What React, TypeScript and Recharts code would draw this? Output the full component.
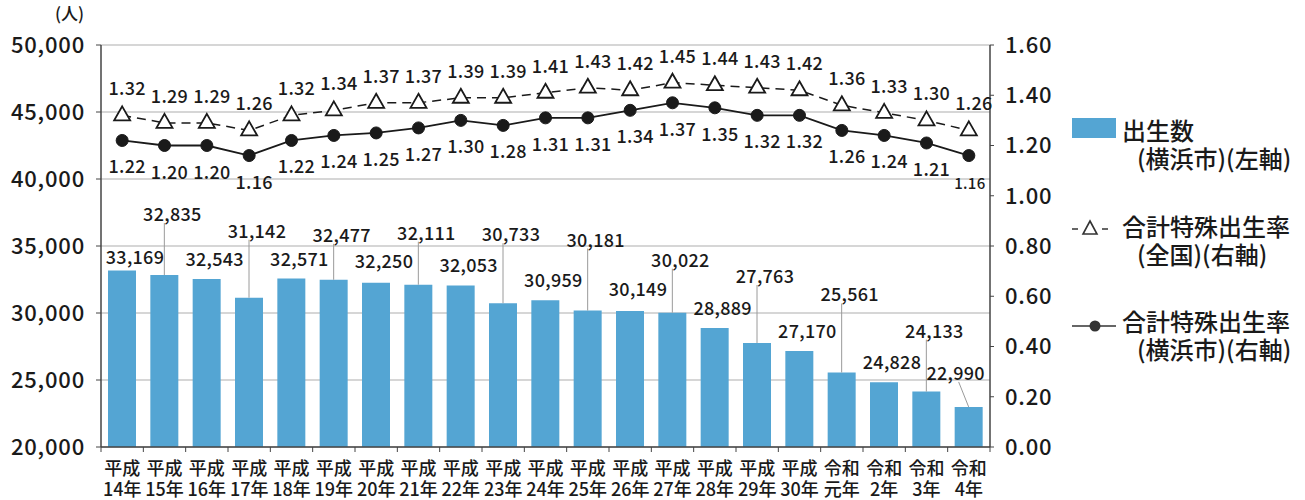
import React from 'react';
import {
  ComposedChart,
  Bar,
  Line,
  XAxis,
  YAxis,
  CartesianGrid,
  LabelList,
} from 'recharts';

// 年度ラベル
const eras = [
  '平成', '平成', '平成', '平成', '平成', '平成', '平成', '平成', '平成', '平成', '平成',
  '平成', '平成', '平成', '平成', '平成', '平成', '令和', '令和', '令和', '令和',
];
const years = [
  '14年', '15年', '16年', '17年', '18年', '19年', '20年', '21年', '22年', '23年', '24年',
  '25年', '26年', '27年', '28年', '29年', '30年', '元年', '2年', '3年', '4年',
];

// 出生数(横浜市)
const births = [
  33169, 32835, 32543, 31142, 32571, 32477, 32250, 32111, 32053, 30733, 30959,
  30181, 30149, 30022, 28889, 27763, 27170, 25561, 24828, 24133, 22990,
];
// 合計特殊出生率(全国)
const rateJapan = [
  1.32, 1.29, 1.29, 1.26, 1.32, 1.34, 1.37, 1.37, 1.39, 1.39, 1.41,
  1.43, 1.42, 1.45, 1.44, 1.43, 1.42, 1.36, 1.33, 1.30, 1.26,
];
// 合計特殊出生率(横浜市)
const rateYokohama = [
  1.22, 1.20, 1.20, 1.16, 1.22, 1.24, 1.25, 1.27, 1.30, 1.28, 1.31,
  1.31, 1.34, 1.37, 1.35, 1.32, 1.32, 1.26, 1.24, 1.21, 1.16,
];

const leftTicks = [20000, 25000, 30000, 35000, 40000, 45000, 50000];
const rightTicks = [0, 0.2, 0.4, 0.6, 0.8, 1.0, 1.2, 1.4, 1.6];

// how far each bar label sits above its bar (px) - the odd ones get a leader line
const birthLabelLift = [15, 62, 21, 68, 21, 46, 23, 53, 21, 70, 21, 72, 23, 54, 21, 68, 21, 79, 21, 62, 35];

const FONT = '"Noto Sans CJK JP", "Noto Sans", sans-serif';
const BAR_COLOR = '#54a5d3';
const INK = '#1a1a1a';
const PLOT_LEFT = 101;
const PLOT_RIGHT = 990;
const PLOT_BOTTOM = 447;
const BAND = (PLOT_RIGHT - PLOT_LEFT) / years.length;

const chartData = years.map((y, i) => ({
  name: eras[i] + y,
  births: births[i],
  japan: rateJapan[i],
  yokohama: rateYokohama[i],
}));

const XTick = ({ x, payload, index }: any) => {
  const i = index ?? payload.index;
  const last = i === years.length - 1;
  return (
    <g>
      <line x1={x - BAND / 2} x2={x - BAND / 2} y1={PLOT_BOTTOM} y2={PLOT_BOTTOM + 5} stroke="#444" />
      {last && (
        <line x1={x + BAND / 2} x2={x + BAND / 2} y1={PLOT_BOTTOM} y2={PLOT_BOTTOM + 5} stroke="#444" />
      )}
      <text x={x} y={475} textAnchor="middle" fontSize={18} fontWeight={500} fill={INK}>
        {eras[i]}
      </text>
      <text x={x} y={496} textAnchor="middle" fontSize={18} fontWeight={500} fill={INK}>
        {years[i]}
      </text>
    </g>
  );
};

const BirthLabel = (props: any) => {
  const { x, y, width, value, index } = props;
  const cx = x + width / 2;
  const lift = birthLabelLift[index];
  const last = index === births.length - 1;
  const tx = last ? cx - 13 : cx + (index === 0 ? 13 : 8);
  const ty = y - lift;
  const withLine = lift > 30;
  return (
    <g>
      {withLine && (
        <line x1={last ? cx - 10 : cx} y1={ty + 10} x2={cx} y2={y} stroke="#9a9a9a" strokeWidth={1} />
      )}
      <text
        x={tx}
        y={ty}
        textAnchor="middle"
        dominantBaseline="central"
        fontSize={18}
        fontWeight={500}
        letterSpacing={0.3}
        fill={INK}
      >
        {Number(value).toLocaleString('en-US')}
      </text>
    </g>
  );
};

const JapanLabel = (props: any) => {
  const { x, y, value } = props;
  return (
    <text
      x={x + 5}
      y={y - 28}
      textAnchor="middle"
      dominantBaseline="central"
      fontSize={18}
      fontWeight={500}
      letterSpacing={0.3}
      fill={INK}
    >
      {Number(value).toFixed(2)}
    </text>
  );
};

const YokohamaLabel = (props: any) => {
  const { x, y, value, index } = props;
  const last = index === rateYokohama.length - 1;
  return (
    <text
      x={x + (last ? 1 : 5)}
      y={y + (last ? 27 : 25)}
      textAnchor="middle"
      dominantBaseline="central"
      fontSize={last ? 15 : 18}
      fontWeight={500}
      letterSpacing={0.3}
      fill={INK}
    >
      {Number(value).toFixed(2)}
    </text>
  );
};

const TriangleDot = (props: any) => {
  const { cx, cy, index } = props;
  if (cx == null || cy == null) return <g key={`t-${index}`} />;
  return (
    <path
      key={`t-${index}`}
      d={`M${cx},${cy - 9} L${cx + 8},${cy + 5} L${cx - 8},${cy + 5} Z`}
      fill="#fff"
      stroke={INK}
      strokeWidth={1.8}
      strokeLinejoin="miter"
    />
  );
};

const Legend = () => (
  <svg
    width={240}
    height={300}
    style={{ position: 'absolute', left: 1065, top: 100, fontFamily: FONT }}
  >
    {/* 出生数 */}
    <rect x={7} y={18} width={44} height={20} fill={BAR_COLOR} />
    <text x={57} y={29} dominantBaseline="central" fontSize={24} fontWeight={500} fill={INK}>出生数</text>
    <text x={72} y={57} dominantBaseline="central" fontSize={24} fontWeight={500} fill={INK}>(横浜市)(左軸)</text>

    {/* 全国 */}
    <line x1={7} x2={13} y1={129} y2={129} stroke="#333" strokeWidth={1.5} />
    <line x1={37} x2={43} y1={129} y2={129} stroke="#333" strokeWidth={1.5} />
    <path d="M25,121 L32,134 L18,134 Z" fill="#fff" stroke="#333" strokeWidth={1.6} />
    <text x={57} y={125} dominantBaseline="central" fontSize={24} fontWeight={500} fill={INK}>合計特殊出生率</text>
    <text x={72} y={153} dominantBaseline="central" fontSize={24} fontWeight={500} fill={INK}>(全国)(右軸)</text>

    {/* 横浜市 */}
    <line x1={7} x2={51} y1={226} y2={226} stroke="#333" strokeWidth={1.5} />
    <circle cx={30} cy={226} r={5.5} fill="#333" />
    <text x={57} y={220} dominantBaseline="central" fontSize={24} fontWeight={500} fill={INK}>合計特殊出生率</text>
    <text x={72} y={248} dominantBaseline="central" fontSize={24} fontWeight={500} fill={INK}>(横浜市)(右軸)</text>
  </svg>
);

const App: React.FC = () => {
  return (
    <div style={{ position: 'absolute', left: 0, top: 0, width: 1305, height: 500, background: '#fff', fontFamily: FONT }}>
      <div style={{ position: 'absolute', left: 55, top: 2, fontSize: 17, fontWeight: 500, color: INK, lineHeight: '22px' }}>(人)</div>
      <ComposedChart
        width={1305}
        height={500}
        data={chartData}
        margin={{ top: 45, right: 245, left: 0, bottom: 0 }}
        style={{ fontFamily: FONT }}
      >
        <CartesianGrid yAxisId="left" vertical={false} stroke="#c8c8c8" strokeWidth={1.5} />
        <XAxis
          dataKey="name"
          interval={0}
          height={53}
          tickLine={false}
          axisLine={{ stroke: '#444', strokeWidth: 1.5 }}
          tick={<XTick />}
        />
        <YAxis
          yAxisId="left"
          width={101}
          domain={[20000, 50000]}
          ticks={leftTicks}
          allowDataOverflow
          tickFormatter={(v: number) => v.toLocaleString('en-US')}
          tick={{ fill: INK, fontSize: 22, fontWeight: 500, letterSpacing: 0.8 }}
          tickSize={5}
          tickMargin={11}
          axisLine={{ stroke: '#444', strokeWidth: 1.5 }}
          tickLine={{ stroke: '#444' }}
        />
        <YAxis
          yAxisId="right"
          orientation="right"
          width={70}
          domain={[0, 1.6]}
          ticks={rightTicks}
          allowDataOverflow
          tickFormatter={(v: number) => v.toFixed(2)}
          tick={{ fill: INK, fontSize: 22, fontWeight: 500, letterSpacing: 0.8 }}
          tickSize={4}
          tickMargin={11}
          axisLine={{ stroke: '#444', strokeWidth: 1.5 }}
          tickLine={{ stroke: '#444' }}
        />
        <Bar yAxisId="left" dataKey="births" fill={BAR_COLOR} barSize={28} isAnimationActive={false}>
          <LabelList dataKey="births" content={<BirthLabel />} />
        </Bar>
        <Line
          yAxisId="right"
          dataKey="japan"
          stroke={INK}
          strokeWidth={1.5}
          strokeDasharray="9 6"
          dot={TriangleDot}
          activeDot={false}
          isAnimationActive={false}
        >
          <LabelList dataKey="japan" content={<JapanLabel />} />
        </Line>
        <Line
          yAxisId="right"
          dataKey="yokohama"
          stroke={INK}
          strokeWidth={1.8}
          dot={{ r: 6, fill: INK, stroke: INK, strokeWidth: 1 }}
          activeDot={false}
          isAnimationActive={false}
        >
          <LabelList dataKey="yokohama" content={<YokohamaLabel />} />
        </Line>
      </ComposedChart>
      <Legend />
    </div>
  );
};

export default App;
